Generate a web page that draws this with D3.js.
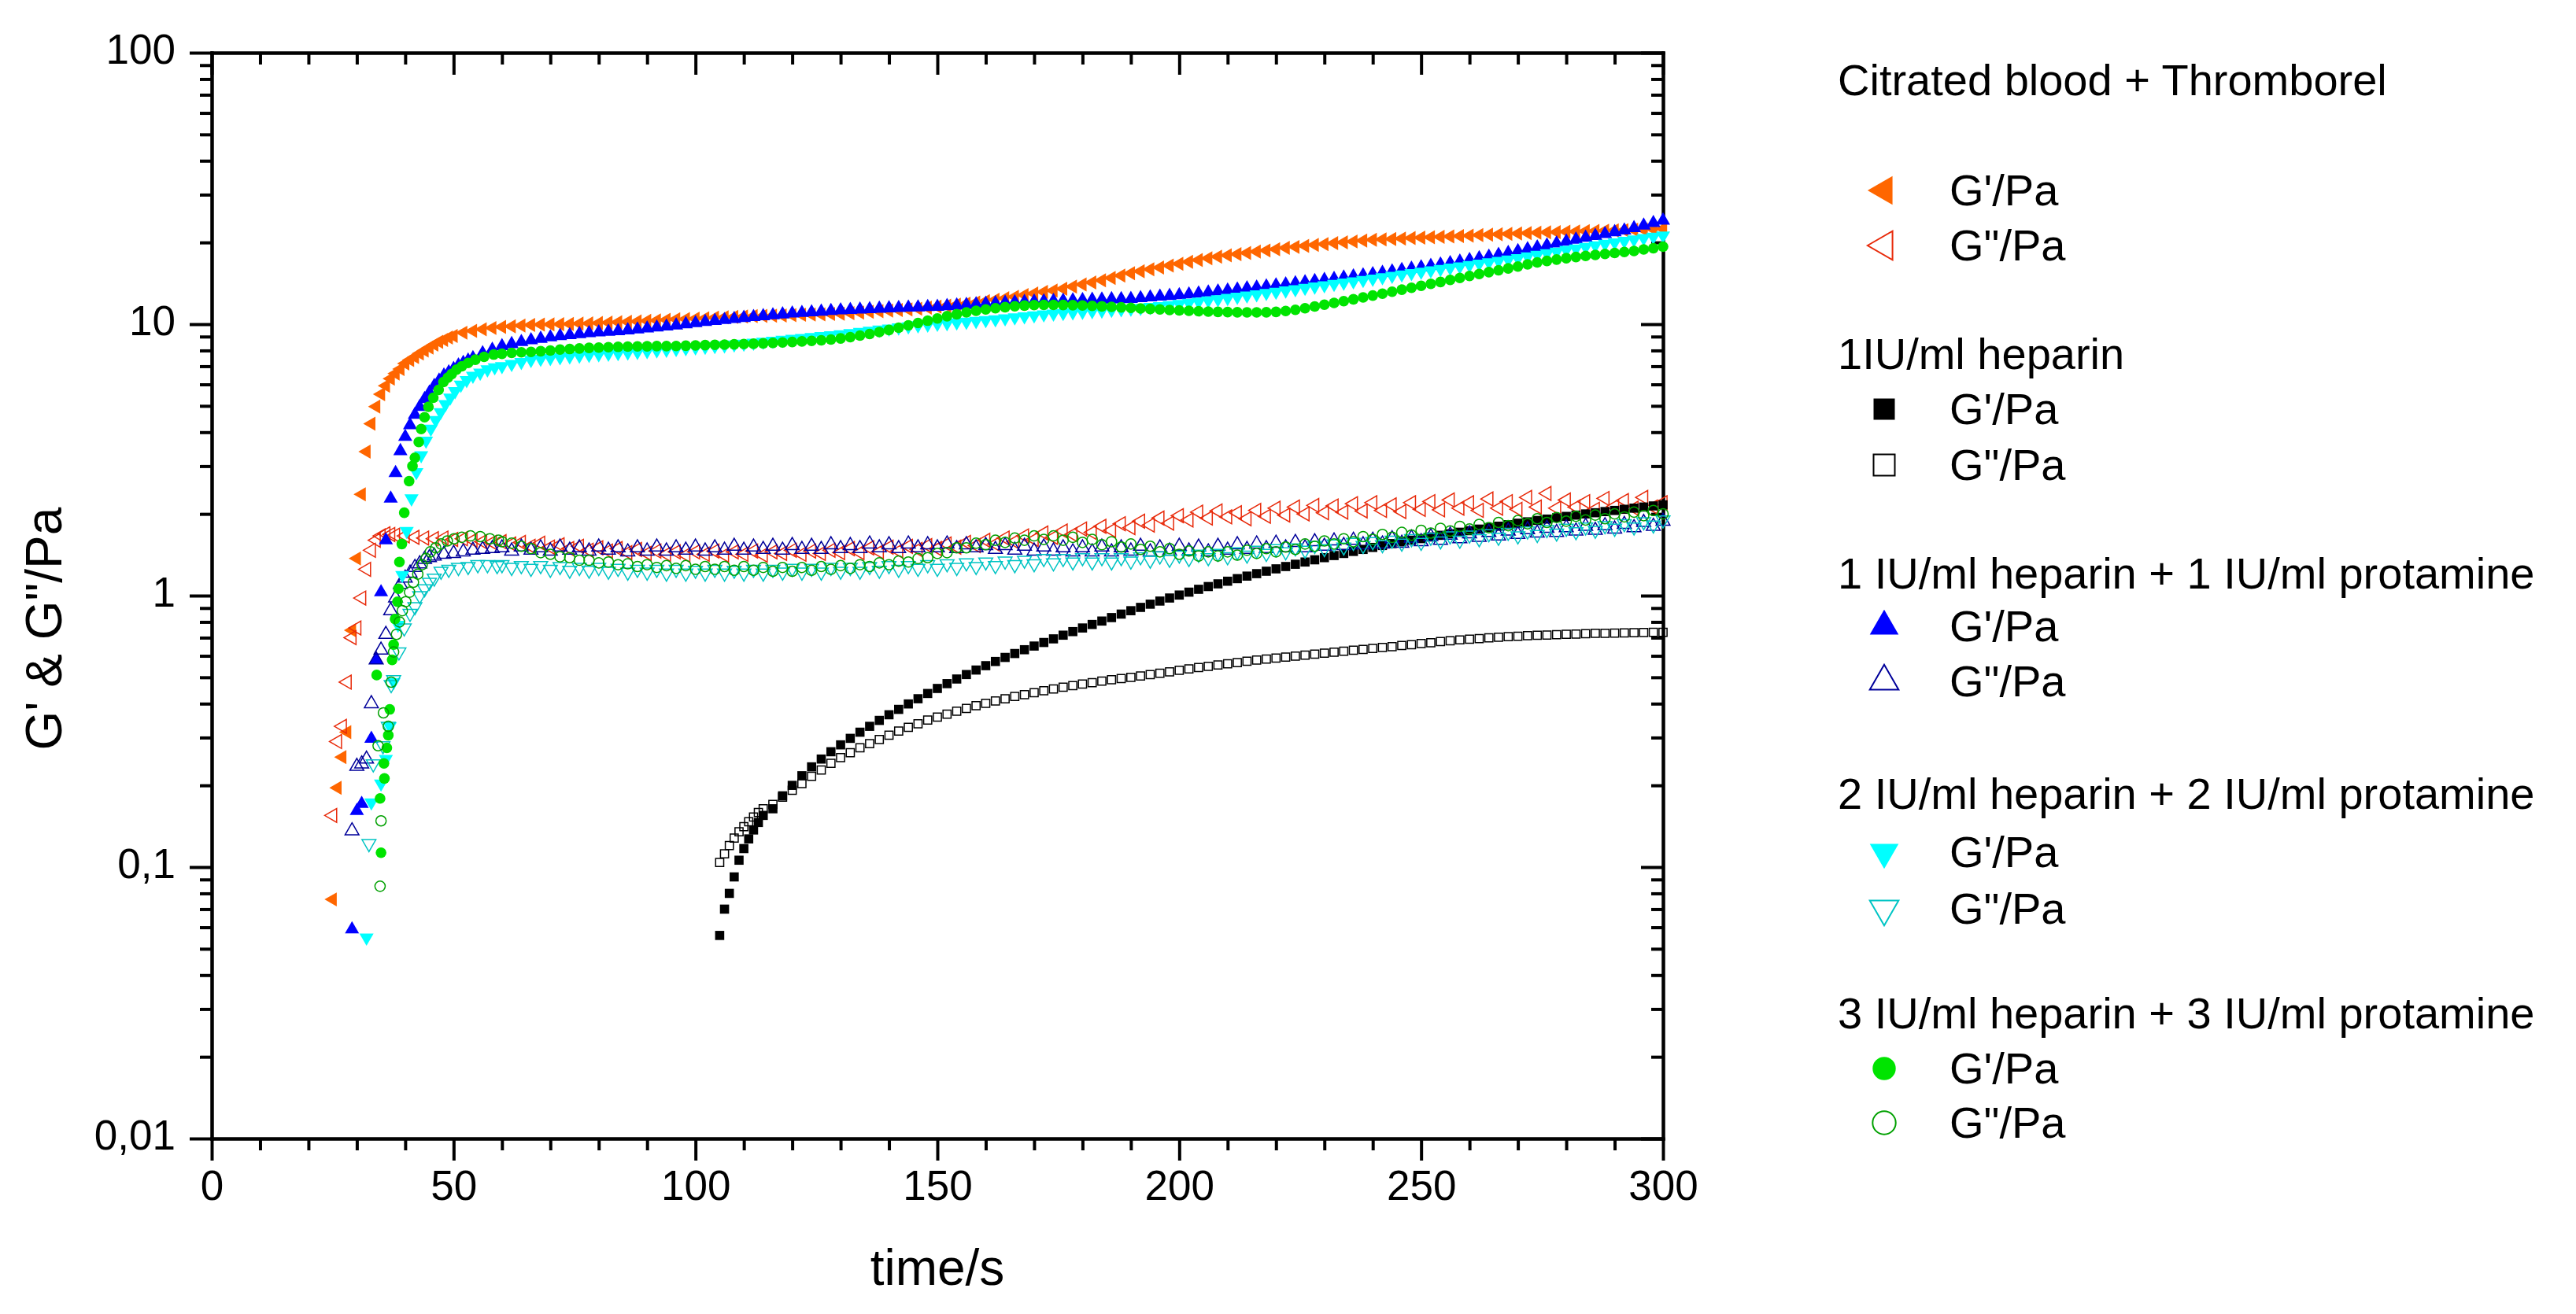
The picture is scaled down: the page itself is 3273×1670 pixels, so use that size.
<!DOCTYPE html>
<html><head><meta charset="utf-8">
<script src="https://cdn.jsdelivr.net/npm/d3@7"></script>
<style>
html,body{margin:0;padding:0;background:#fff;}
svg{display:block;font-family:"Liberation Sans",Arial,Helvetica,sans-serif;}
</style></head><body>
<svg id="chart" width="3273" height="1670"></svg>
<script>
// ---------------- DATA ----------------
const xTickValues = [0, 50, 100, 150, 200, 250, 300];
const yTickValues = [0.01, 0.1, 1, 10, 100];
const yTickLabels = ["0,01", "0,1", "1", "10", "100"];
const xTitle = "time/s";
const yTitle = "G' & G\"/Pa";

const groupNames = ["Citrated blood + Thromborel", "1IU/ml heparin",
  "1 IU/ml heparin + 1 IU/ml protamine", "2 IU/ml heparin + 2 IU/ml protamine",
  "3 IU/ml heparin + 3 IU/ml protamine"];
const itemNames = ["G'/Pa", "G\"/Pa"];

// common sampling times of the plateau part (s)
const tGrid = [60,62,64,66,68,70,72,74,76,78,
  80,82,84,86,88,90,92,94,96,98,
  100,102,104,106,108,110,112,114,116,118,
  120,122,124,126,128,130,132,134,136,138,
  140,142,144,146,148,150,152,154,156,158,
  160,162,164,166,168,170,172,174,176,178,
  180,182,184,186,188,190,192,194,196,198,
  200,202,204,206,208,210,212,214,216,218,
  220,222,224,226,228,230,232,234,236,238,
  240,242,244,246,248,250,252,254,256,258,
  260,262,264,266,268,270,272,274,276,278,
  280,282,284,286,288,290,292,294,296,298,
  300];

// Citrated blood + Thromborel
const orangeGpOnset = [[25,0.076],[26,0.196],[27,0.254],[28,0.314],[29,0.746],[30,1.37],[31,2.36],[32,3.39],[33,4.3],[34,4.97],[35,5.52],[36,5.93],[37,6.3],[38,6.58],[39,6.84],[40,7.16],[41,7.38],[42,7.57],[43,7.8],[44,8.0],[45,8.2],[46,8.4],[47,8.6],[48,8.75],[49,8.93],[50,9.05],[52,9.3],[54,9.45],[56,9.58],[58,9.68]];
const orangeGp = [9.77,9.82,9.88,9.94,9.96,9.98,10.0,10.02,10.05,10.07,
  10.1,10.13,10.17,10.2,10.24,10.28,10.33,10.38,10.42,10.45,
  10.48,10.52,10.56,10.6,10.63,10.67,10.7,10.72,10.74,10.77,
  10.8,10.83,10.85,10.87,10.9,10.93,10.98,11.04,11.1,11.16,
  11.22,11.28,11.34,11.4,11.5,11.6,11.7,11.8,11.9,12.02,
  12.15,12.3,12.46,12.62,12.8,12.97,13.14,13.3,13.5,13.75,
  14.0,14.25,14.5,14.8,15.1,15.4,15.66,15.92,16.18,16.44,
  16.7,16.97,17.23,17.5,17.72,17.92,18.12,18.3,18.5,18.68,
  18.88,19.1,19.25,19.42,19.58,19.73,19.88,20.02,20.17,20.32,
  20.45,20.53,20.6,20.68,20.76,20.83,20.9,20.97,21.05,21.12,
  21.2,21.28,21.35,21.43,21.5,21.58,21.66,21.74,21.8,21.85,
  21.9,21.95,22.0,22.05,22.1,22.15,22.2,22.26,22.32,22.38,
  22.45];
const orangeGppOnset = [[25,0.155],[26,0.29],[27,0.33],[28,0.48],[29,0.7],[30,0.76],[31,0.98],[32,1.25],[33,1.47],[34,1.6],[35,1.66],[36,1.69],[37,1.68],[38,1.67],[40,1.66],[42,1.64],[44,1.63],[46,1.62],[48,1.63],[50,1.61],[52,1.62],[54,1.6],[56,1.58],[58,1.57]];
const orangeGpp = [1.58,1.55,1.57,1.52,1.56,1.51,1.54,1.49,1.52,1.47,
  1.5,1.46,1.49,1.44,1.48,1.43,1.46,1.42,1.45,1.41,
  1.45,1.42,1.46,1.41,1.45,1.42,1.46,1.41,1.45,1.43,
  1.47,1.42,1.46,1.43,1.47,1.44,1.49,1.44,1.5,1.45,
  1.51,1.46,1.52,1.48,1.53,1.49,1.55,1.51,1.57,1.53,
  1.6,1.55,1.63,1.58,1.66,1.61,1.7,1.64,1.73,1.68,
  1.76,1.71,1.8,1.74,1.84,1.78,1.88,1.82,1.93,1.85,
  1.97,1.9,2.03,1.93,2.05,1.95,2.02,1.92,2.06,1.96,
  2.1,1.98,2.12,2.0,2.15,2.02,2.14,2.03,2.18,2.05,
  2.2,2.06,2.16,2.04,2.2,2.08,2.22,2.07,2.25,2.1,
  2.2,2.06,2.27,2.1,2.22,2.08,2.3,2.12,2.38,2.1,
  2.25,2.12,2.22,2.08,2.28,2.13,2.24,2.1,2.3,2.12,
  2.2];

// 1IU/ml heparin
const tBlack = [105,106,107,108,109,110,111,112,113,114,
  116,118,120,122,124,126,128,130,132,134,
  136,138,140,142,144,146,148,150,152,154,
  156,158,160,162,164,166,168,170,172,174,
  176,178,180,182,184,186,188,190,192,194,
  196,198,200,202,204,206,208,210,212,214,
  216,218,220,222,224,226,228,230,232,234,
  236,238,240,242,244,246,248,250,252,254,
  256,258,260,262,264,266,268,270,272,274,
  276,278,280,282,284,286,288,290,292,294,
  296,298,300];
const blackGp = [0.056,0.07,0.08,0.092,0.106,0.117,0.127,0.137,0.146,0.155,
  0.164,0.183,0.2,0.217,0.234,0.25,0.266,0.282,0.298,0.314,
  0.33,0.347,0.364,0.381,0.399,0.417,0.436,0.455,0.474,0.493,
  0.512,0.532,0.552,0.572,0.592,0.612,0.632,0.652,0.672,0.693,
  0.715,0.737,0.76,0.783,0.806,0.83,0.855,0.88,0.905,0.93,
  0.955,0.98,1.005,1.03,1.055,1.08,1.105,1.13,1.155,1.18,
  1.205,1.23,1.255,1.28,1.305,1.33,1.355,1.38,1.405,1.43,
  1.455,1.48,1.505,1.53,1.555,1.578,1.6,1.622,1.645,1.668,
  1.69,1.712,1.735,1.758,1.78,1.802,1.825,1.848,1.87,1.892,
  1.914,1.936,1.958,1.98,2.0,2.02,2.04,2.06,2.08,2.1,
  2.12,2.14,2.16];
const blackGpp = [0.104,0.112,0.12,0.128,0.135,0.141,0.147,0.153,0.159,0.164,
  0.17,0.181,0.192,0.203,0.216,0.228,0.241,0.253,0.264,0.275,
  0.285,0.295,0.306,0.317,0.327,0.337,0.348,0.357,0.366,0.375,
  0.384,0.393,0.401,0.409,0.417,0.425,0.432,0.439,0.446,0.453,
  0.46,0.466,0.472,0.478,0.484,0.49,0.495,0.5,0.506,0.512,
  0.518,0.524,0.531,0.537,0.543,0.549,0.555,0.561,0.567,0.573,
  0.579,0.584,0.589,0.594,0.599,0.604,0.609,0.614,0.619,0.624,
  0.629,0.634,0.639,0.644,0.649,0.655,0.66,0.666,0.671,0.677,
  0.682,0.687,0.691,0.695,0.699,0.703,0.706,0.709,0.712,0.714,
  0.716,0.718,0.72,0.722,0.724,0.726,0.727,0.728,0.729,0.73,
  0.731,0.732,0.733];

// 1 IU/ml heparin + 1 IU/ml protamine
const blueGpOnset = [[29,0.059],[30,0.161],[31,0.171],[33,0.297],[34,0.58],[35,1.03],[36,1.6],[37,2.28],[38,2.83],[39,3.41],[40,3.85],[41,4.25],[42,4.64],[43,4.96],[44,5.3],[45,5.6],[46,5.93],[47,6.2],[48,6.47],[49,6.65],[50,6.84],[51,7.05],[52,7.2],[53,7.35],[54,7.5],[56,7.82],[58,8.05]];
const blueGp = [8.3,8.45,8.6,8.73,8.84,8.95,9.05,9.12,9.2,9.27,
  9.33,9.38,9.43,9.5,9.57,9.65,9.73,9.81,9.9,10.0,
  10.1,10.19,10.28,10.37,10.46,10.55,10.63,10.71,10.79,10.87,
  10.95,11.01,11.07,11.13,11.19,11.25,11.29,11.33,11.37,11.41,
  11.45,11.48,11.51,11.54,11.57,11.6,11.66,11.72,11.78,11.84,
  11.9,11.95,12.0,12.04,12.08,12.12,12.15,12.18,12.21,12.24,
  12.27,12.3,12.33,12.36,12.38,12.4,12.48,12.56,12.64,12.72,
  12.8,12.88,12.98,13.1,13.2,13.32,13.43,13.55,13.66,13.78,
  13.9,14.02,14.15,14.28,14.42,14.56,14.7,14.85,15.0,15.15,
  15.3,15.48,15.66,15.84,16.02,16.2,16.4,16.6,16.8,17.02,
  17.25,17.5,17.75,18.02,18.3,18.6,18.9,19.2,19.52,19.84,
  20.16,20.5,20.84,21.16,21.5,21.84,22.16,22.6,23.1,23.6,
  24.1];
const blueGppOnset = [[29,0.136],[30,0.235],[31,0.24],[32,0.25],[33,0.4],[34,0.58],[35,0.63],[36,0.72],[37,0.88],[38,0.98],[39,1.1],[40,1.16],[41,1.21],[42,1.27],[43,1.31],[44,1.36],[45,1.38],[46,1.4],[48,1.42],[50,1.43],[52,1.45],[54,1.47],[56,1.48],[58,1.49]];
const blueGpp = [1.5,1.46,1.51,1.47,1.5,1.46,1.51,1.47,1.5,1.46,
  1.51,1.47,1.5,1.45,1.5,1.46,1.51,1.46,1.5,1.47,
  1.51,1.46,1.5,1.47,1.52,1.47,1.51,1.48,1.52,1.47,
  1.53,1.48,1.52,1.48,1.54,1.49,1.53,1.49,1.55,1.5,
  1.54,1.49,1.55,1.5,1.54,1.5,1.55,1.49,1.54,1.5,
  1.53,1.48,1.53,1.47,1.52,1.46,1.51,1.46,1.5,1.45,
  1.5,1.45,1.51,1.45,1.5,1.46,1.52,1.45,1.5,1.46,
  1.52,1.46,1.51,1.45,1.52,1.47,1.54,1.48,1.55,1.49,
  1.56,1.5,1.57,1.5,1.58,1.52,1.59,1.53,1.6,1.54,
  1.6,1.55,1.62,1.56,1.63,1.58,1.65,1.6,1.67,1.62,
  1.69,1.64,1.71,1.66,1.73,1.68,1.75,1.7,1.77,1.71,
  1.78,1.73,1.8,1.74,1.81,1.76,1.83,1.78,1.86,1.8,
  1.88];

// 2 IU/ml heparin + 2 IU/ml protamine
const cyanGpOnset = [[32,0.055],[33,0.173],[35,0.203],[36,0.25],[36.8,0.33],[37.6,0.48],[38.5,0.78],[39.4,1.19],[40.3,1.73],[41.3,2.28],[42.3,2.85],[43.3,3.29],[44.3,3.72],[45.3,4.12],[46.3,4.43],[47.3,4.74],[48.3,5.07],[49.3,5.36],[50.3,5.66],[51.5,5.98],[52.7,6.22],[54,6.45],[55.5,6.62],[57,6.81],[58.5,6.93]];
const cyanGp = [7.0,7.13,7.25,7.38,7.45,7.5,7.55,7.6,7.65,7.7,
  7.74,7.78,7.82,7.86,7.9,7.95,8.0,8.05,8.1,8.15,
  8.2,8.25,8.3,8.35,8.41,8.47,8.54,8.61,8.68,8.75,
  8.82,8.89,8.96,9.03,9.1,9.18,9.27,9.36,9.45,9.54,
  9.63,9.72,9.81,9.9,9.96,10.02,10.08,10.14,10.2,10.27,
  10.34,10.42,10.5,10.59,10.68,10.77,10.86,10.93,10.99,11.05,
  11.1,11.16,11.22,11.28,11.34,11.4,11.48,11.56,11.65,11.75,
  11.86,11.97,12.09,12.22,12.35,12.48,12.61,12.74,12.88,13.02,
  13.16,13.3,13.45,13.6,13.75,13.9,14.06,14.22,14.38,14.54,
  14.7,14.88,15.06,15.24,15.42,15.6,15.78,15.96,16.14,16.32,
  16.5,16.7,16.9,17.1,17.3,17.5,17.75,18.0,18.25,18.5,
  18.75,19.0,19.25,19.5,19.75,20.0,20.25,20.5,20.75,21.0,
  21.2];
const cyanGppOnset = [[32.5,0.122],[33.4,0.24],[35.4,0.28],[36.5,0.33],[37.1,0.47],[37.6,0.49],[38.7,0.62],[39.8,0.76],[41,0.86],[42,0.91],[43,1.0],[44,1.06],[45,1.12],[46,1.16],[47.4,1.23],[49,1.25],[51,1.27],[53,1.28],[55,1.3],[57,1.3],[59,1.29]];
const cyanGpp = [1.3,1.27,1.29,1.26,1.29,1.25,1.28,1.24,1.27,1.24,
  1.27,1.23,1.26,1.22,1.25,1.22,1.25,1.21,1.25,1.21,
  1.24,1.21,1.25,1.21,1.24,1.21,1.25,1.21,1.25,1.22,
  1.26,1.22,1.26,1.22,1.27,1.23,1.27,1.23,1.28,1.24,
  1.29,1.25,1.29,1.26,1.3,1.26,1.31,1.27,1.32,1.28,
  1.33,1.29,1.34,1.3,1.35,1.31,1.37,1.32,1.37,1.33,
  1.38,1.33,1.38,1.33,1.38,1.34,1.39,1.35,1.4,1.36,
  1.41,1.37,1.42,1.38,1.43,1.39,1.45,1.41,1.47,1.43,
  1.49,1.45,1.5,1.47,1.53,1.49,1.55,1.51,1.57,1.53,
  1.58,1.54,1.6,1.56,1.62,1.57,1.64,1.59,1.66,1.6,
  1.67,1.62,1.69,1.64,1.71,1.66,1.73,1.68,1.75,1.7,
  1.77,1.72,1.79,1.74,1.81,1.77,1.84,1.79,1.87,1.82,
  1.9];

// 3 IU/ml heparin + 3 IU/ml protamine
const greenGpOnset = [[34.1,0.51],[34.8,0.179],[35.0,0.113],[35.6,0.241],[35.7,0.212],[36.2,0.275],[36.5,0.306],[36.8,0.381],[37.3,0.58],[37.6,0.66],[37.9,0.82],[38.4,0.95],[38.6,1.06],[38.8,1.33],[39.3,1.55],[39.8,2.02],[40.8,2.64],[41.5,3.0],[42.0,3.22],[42.8,3.68],[43.3,4.11],[44.0,4.54],[44.8,4.96],[45.8,5.36],[46.9,5.73],[47.9,6.12],[48.8,6.35],[49.6,6.55],[50.6,6.8],[51.7,7.0],[53,7.2],[54.5,7.4],[56.3,7.58],[58.3,7.73]];
const greenGp = [7.78,7.84,7.88,7.9,7.95,8.0,8.06,8.1,8.14,8.18,
  8.2,8.23,8.25,8.27,8.28,8.29,8.3,8.3,8.31,8.33,
  8.35,8.37,8.39,8.41,8.43,8.45,8.47,8.5,8.53,8.56,
  8.6,8.64,8.68,8.72,8.78,8.86,8.96,9.08,9.2,9.35,
  9.52,9.7,9.9,10.1,10.3,10.5,10.7,10.88,11.05,11.2,
  11.33,11.45,11.55,11.64,11.71,11.76,11.78,11.78,11.77,11.75,
  11.72,11.68,11.63,11.58,11.53,11.48,11.43,11.38,11.33,11.28,
  11.24,11.2,11.16,11.13,11.1,11.08,11.06,11.05,11.05,11.06,
  11.1,11.18,11.3,11.45,11.62,11.8,11.98,12.16,12.35,12.55,
  12.75,12.95,13.17,13.4,13.62,13.85,14.08,14.3,14.55,14.8,
  15.05,15.3,15.55,15.8,16.05,16.3,16.6,16.88,17.1,17.3,
  17.5,17.68,17.85,18.0,18.15,18.3,18.45,18.6,18.85,19.05,
  19.3];
const greenGppOnset = [[34.4,0.28],[34.8,0.085],[35.0,0.148],[35.5,0.37],[36.5,0.33],[37.1,0.48],[37.6,0.62],[38.2,0.72],[38.8,0.8],[39.4,0.88],[40.1,0.95],[40.9,1.03],[41.7,1.12],[42.6,1.2],[43.5,1.3],[44.3,1.37],[45.2,1.45],[46.3,1.5],[47.4,1.55],[48.7,1.59],[50.1,1.62],[51.7,1.64],[53.5,1.66],[55.5,1.65],[57.5,1.62],[59.3,1.6]];
const greenGpp = [1.58,1.56,1.52,1.49,1.44,1.42,1.39,1.38,1.35,1.35,
  1.32,1.33,1.3,1.31,1.28,1.3,1.27,1.29,1.26,1.29,
  1.25,1.28,1.25,1.28,1.24,1.28,1.24,1.27,1.23,1.27,
  1.23,1.27,1.24,1.28,1.25,1.29,1.26,1.3,1.28,1.32,
  1.3,1.34,1.33,1.37,1.38,1.43,1.44,1.5,1.5,1.56,
  1.54,1.6,1.57,1.63,1.6,1.66,1.61,1.66,1.6,1.64,
  1.57,1.61,1.54,1.58,1.51,1.55,1.48,1.52,1.45,1.49,
  1.42,1.46,1.4,1.45,1.4,1.45,1.41,1.47,1.43,1.49,
  1.45,1.51,1.48,1.55,1.52,1.59,1.55,1.62,1.58,1.65,
  1.61,1.68,1.64,1.71,1.67,1.74,1.7,1.77,1.73,1.8,
  1.76,1.83,1.78,1.86,1.81,1.89,1.84,1.92,1.86,1.94,
  1.88,1.96,1.9,1.98,1.92,2.0,1.95,2.03,1.97,2.06,
  2.0];

// ---------------- CHART ----------------
const zip = (ts, vs) => ts.map((t, i) => [t, vs[i]]);
const svg = d3.select("#chart");
const L = 269, R = 2113, T = 67, B = 1447;
const x = d3.scaleLinear().domain([0, 300]).range([L, R]);
const y = d3.scaleLog().domain([0.01, 100]).range([B, T]);

const xMinor = d3.range(0, 301, 10).filter(v => v % 50 !== 0);
const yMinor = [];
[0.01, 0.1, 1, 10].forEach(d => { for (let k = 2; k <= 9; k++) yMinor.push(+(d * k).toPrecision(3)); });

const AX = 4;
function styleAxis(g, showText) {
  g.select(".domain").attr("stroke", "#000").attr("stroke-width", AX).attr("stroke-linecap", "square");
  g.selectAll(".tick line").attr("stroke", "#000").attr("stroke-width", AX);
  g.selectAll(".tick text").attr("fill", "#000").attr("font-size", 53)
    .attr("font-family", "'Liberation Sans', Arial, sans-serif");
  if (!showText) g.selectAll(".tick text").remove();
}
// bottom
const gB = svg.append("g").attr("transform", `translate(0,${B})`);
gB.call(d3.axisBottom(x).tickValues(xTickValues).tickSize(28).tickSizeOuter(0).tickPadding(12).tickFormat(d => String(d)));
styleAxis(gB, true);
svg.append("g").attr("transform", `translate(0,${B})`)
  .call(d3.axisBottom(x).tickValues(xMinor).tickSize(15).tickSizeOuter(0).tickFormat(""))
  .call(g => styleAxis(g, false));
// top (inward ticks)
svg.append("g").attr("transform", `translate(0,${T})`)
  .call(d3.axisTop(x).tickValues(xTickValues).tickSize(-28).tickSizeOuter(0).tickFormat(""))
  .call(g => styleAxis(g, false));
svg.append("g").attr("transform", `translate(0,${T})`)
  .call(d3.axisTop(x).tickValues(xMinor).tickSize(-15).tickSizeOuter(0).tickFormat(""))
  .call(g => styleAxis(g, false));
// left
const gL = svg.append("g").attr("transform", `translate(${L},0)`);
gL.call(d3.axisLeft(y).tickValues(yTickValues).tickSize(28).tickSizeOuter(0).tickPadding(18)
  .tickFormat(d => yTickLabels[yTickValues.indexOf(d)]));
styleAxis(gL, true);
gL.selectAll(".tick text").attr("dy", "0.26em");
svg.append("g").attr("transform", `translate(${L},0)`)
  .call(d3.axisLeft(y).tickValues(yMinor).tickSize(15).tickSizeOuter(0).tickFormat(""))
  .call(g => styleAxis(g, false));
// right (inward ticks)
svg.append("g").attr("transform", `translate(${R},0)`)
  .call(d3.axisRight(y).tickValues(yTickValues).tickSize(-28).tickSizeOuter(0).tickFormat(""))
  .call(g => styleAxis(g, false));
svg.append("g").attr("transform", `translate(${R},0)`)
  .call(d3.axisRight(y).tickValues(yMinor).tickSize(-15).tickSizeOuter(0).tickFormat(""))
  .call(g => styleAxis(g, false));

// axis titles
svg.append("text").attr("x", (L + R) / 2).attr("y", 1633).attr("text-anchor", "middle")
  .attr("font-size", 64).attr("fill", "#000").text(xTitle);
svg.append("text").attr("transform", "translate(78,799) rotate(-90)").attr("text-anchor", "middle")
  .attr("font-size", 64).attr("fill", "#000").text(yTitle);

// series styles
const S = {
  triL: { type: d3.symbolTriangle, rot: -90 },
  triU: { type: d3.symbolTriangle, rot: 0 },
  triD: { type: d3.symbolTriangle, rot: 180 },
  sq: { type: d3.symbolSquare, rot: 0 },
  circ: { type: d3.symbolCircle, rot: 0 }
};
const series = [
  { pts: orangeGpOnset.concat(zip(tGrid, orangeGp)), sh: S.triL, fill: "#ff6600", stroke: null, size: 140 },
  { pts: orangeGppOnset.concat(zip(tGrid, orangeGpp)), sh: S.triL, fill: "none", stroke: "#e82a0a", size: 135 },
  { pts: zip(tBlack, blackGp), sh: S.sq, fill: "#000", stroke: null, size: 135 },
  { pts: zip(tBlack, blackGpp), sh: S.sq, fill: "none", stroke: "#000", size: 105 },
  { pts: blueGpOnset.concat(zip(tGrid, blueGp)), sh: S.triU, fill: "#0000ff", stroke: null, size: 140 },
  { pts: blueGppOnset.concat(zip(tGrid, blueGpp)), sh: S.triU, fill: "none", stroke: "#00009a", size: 135 },
  { pts: cyanGpOnset.concat(zip(tGrid, cyanGp)), sh: S.triD, fill: "#00ffff", stroke: null, size: 140 },
  { pts: cyanGppOnset.concat(zip(tGrid, cyanGpp)), sh: S.triD, fill: "none", stroke: "#00c4c4", size: 135 },
  { pts: greenGpOnset.concat(zip(tGrid, greenGp)), sh: S.circ, fill: "#00e400", stroke: null, size: 145 },
  { pts: greenGppOnset.concat(zip(tGrid, greenGpp)), sh: S.circ, fill: "none", stroke: "#00a000", size: 135 }
];

const plot = svg.append("g");
series.forEach(s => {
  const gen = d3.symbol().type(s.sh.type).size(s.size);
  plot.append("g").selectAll("path").data(s.pts).join("path")
    .attr("d", gen)
    .attr("transform", d => `translate(${x(d[0])},${y(d[1])}) rotate(${s.sh.rot})`)
    .attr("fill", s.fill)
    .attr("stroke", s.stroke || "none")
    .attr("stroke-width", s.stroke ? 1.5 : 0);
});

// legend
const lgHeaderY = [121, 469, 748, 1028, 1307];
const lgRowY = [[242, 312], [520, 591], [796, 866], [1083, 1155], [1358, 1427]];
const lg = svg.append("g").attr("font-size", 56).attr("fill", "#000");
const legendSizes = { triL: 580, triU: 580, triD: 580, sq: 729, circ: 680 };
groupNames.forEach((name, gi) => {
  lg.append("text").attr("x", 2335).attr("y", lgHeaderY[gi]).text(name);
  [0, 1].forEach(k => {
    const s = series[gi * 2 + k];
    const key = Object.keys(S).find(kk => S[kk] === s.sh);
    const cy = lgRowY[gi][k];
    lg.append("path")
      .attr("d", d3.symbol().type(s.sh.type).size(legendSizes[key])())
      .attr("transform", `translate(2394,${cy}) rotate(${s.sh.rot})`)
      .attr("fill", s.fill).attr("stroke", s.stroke || "none").attr("stroke-width", s.stroke ? 2 : 0);
    lg.append("text").attr("x", 2477).attr("y", cy + 19).text(itemNames[k]);
  });
});
</script>
</body></html>
